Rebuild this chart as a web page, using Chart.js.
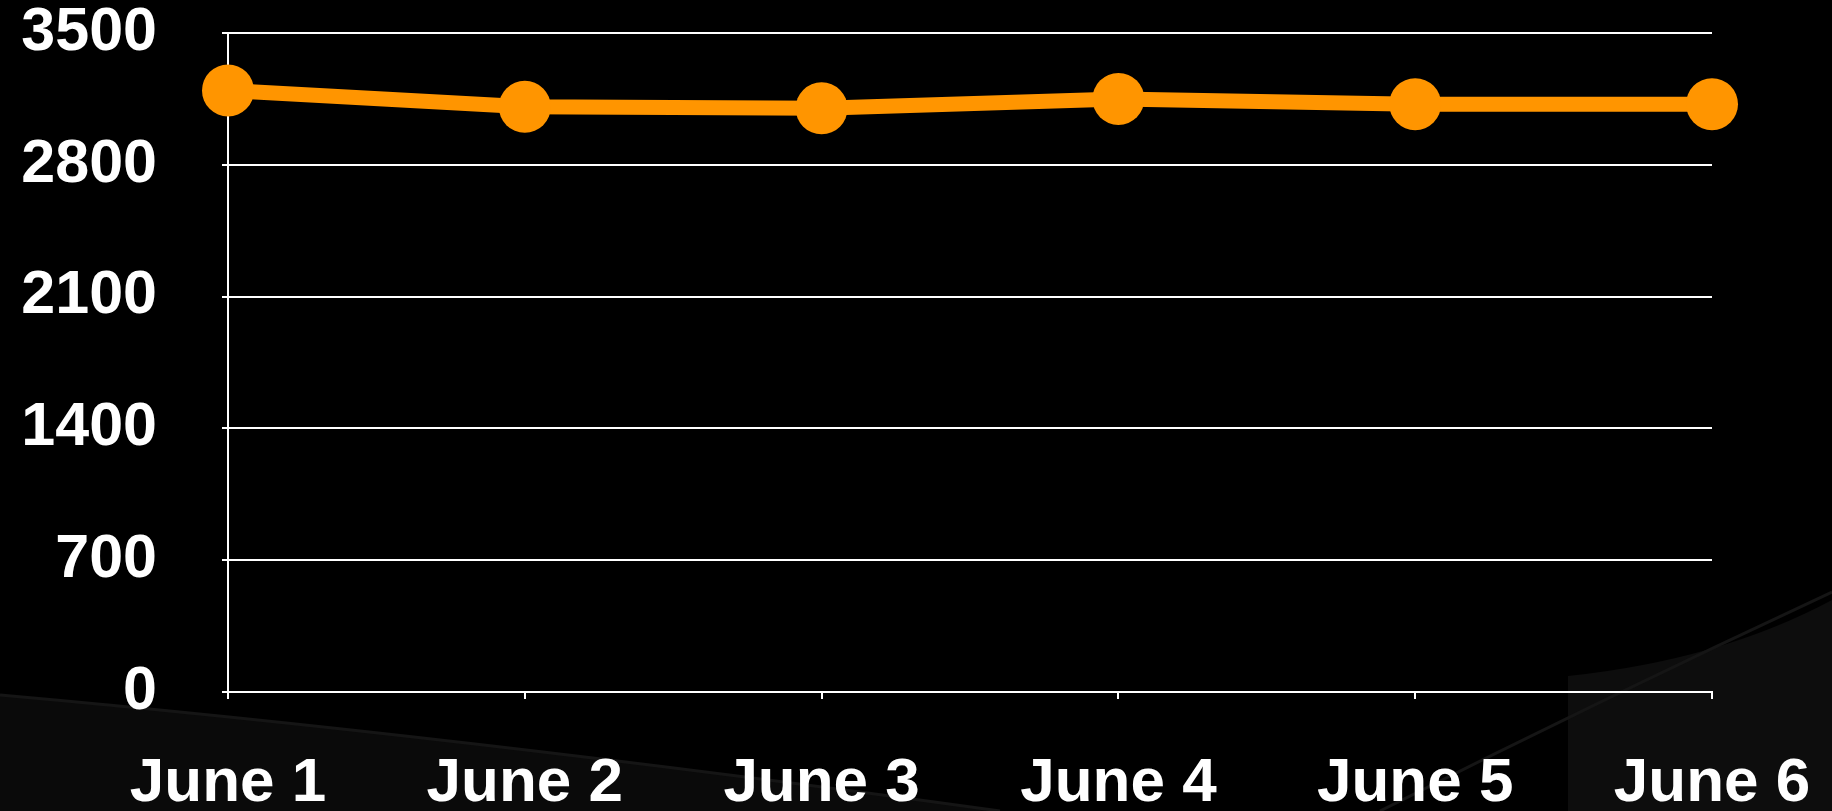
<!DOCTYPE html>
<html>
<head>
<meta charset="utf-8">
<script src="https://cdn.jsdelivr.net/npm/chart.js@4/dist/chart.umd.min.js"></script>
<style>
  html, body { margin: 0; padding: 0; background: #000; }
  #wrap { width: 1832px; height: 811px; position: relative; }
</style>
</head>
<body>
<div id="wrap"><canvas id="chart"></canvas></div>
<script>
const days = ["June 1", "June 2", "June 3", "June 4", "June 5", "June 6"];
const visits = [3195, 3108, 3100, 3150, 3122, 3122];
const yTicks = [0, 700, 1400, 2100, 2800, 3500];

const ORANGE = "#ff9500";
const FONT = "'Liberation Sans', Arial, Helvetica, sans-serif";

// dark slide backdrop with the faint swoosh along the bottom
const backdrop = {
  id: "backdrop",
  beforeDraw(chart) {
    const { ctx, width, height } = chart;
    ctx.save();
    ctx.fillStyle = "#000";
    ctx.fillRect(0, 0, width, height);

    // left band sweeping down to the bottom edge
    ctx.fillStyle = "#0a0a0a";
    ctx.beginPath();
    ctx.moveTo(0, 695);
    ctx.quadraticCurveTo(450, 735, 1000, height);
    ctx.lineTo(0, height);
    ctx.closePath();
    ctx.fill();
    ctx.strokeStyle = "#151515";
    ctx.lineWidth = 3;
    ctx.beginPath();
    ctx.moveTo(0, 695);
    ctx.quadraticCurveTo(450, 735, 1000, height);
    ctx.stroke();

    // right panel rising towards the corner
    ctx.fillStyle = "#0d0d0d";
    ctx.beginPath();
    ctx.moveTo(1568, height);
    ctx.lineTo(1568, 676);
    ctx.quadraticCurveTo(1720, 660, 1832, 600);
    ctx.lineTo(width, height);
    ctx.closePath();
    ctx.fill();
    ctx.strokeStyle = "#151515";
    ctx.lineWidth = 3;
    ctx.beginPath();
    ctx.moveTo(1380, height);
    ctx.quadraticCurveTo(1600, 700, 1832, 592);
    ctx.stroke();
    ctx.restore();
  }
};

new Chart(document.getElementById("chart"), {
  type: "line",
  data: {
    labels: days,
    datasets: [{
      data: visits,
      borderColor: ORANGE,
      backgroundColor: ORANGE,
      borderWidth: 15,
      pointRadius: 26,
      pointBorderWidth: 0,
      pointBackgroundColor: ORANGE,
      pointHoverRadius: 26,
      tension: 0,
      clip: false
    }]
  },
  options: {
    responsive: true,
    maintainAspectRatio: false,
    animation: false,
    layout: { padding: { top: 33, right: 120, left: 0, bottom: 0 } },
    plugins: {
      legend: { display: false },
      tooltip: { enabled: false }
    },
    scales: {
      x: {
        offset: false,
        border: { display: true, color: "#fff", width: 2 },
        grid: { drawOnChartArea: false, drawTicks: true, tickLength: 7, color: "#fff", lineWidth: 2 },
        ticks: {
          color: "#fff",
          padding: 48,
          maxRotation: 0,
          font: { family: FONT, size: 62, weight: "bold" }
        },
        afterFit(scale) {
          scale.height = 119;
          scale.paddingLeft = 0;
          scale.paddingRight = 0;
        }
      },
      y: {
        min: 0,
        max: 3500,
        afterBuildTicks(scale) { scale.ticks = yTicks.map(v => ({ value: v })); },
        border: { display: true, color: "#fff", width: 2 },
        grid: { color: "#fff", lineWidth: 2, drawTicks: true, tickLength: 6 },
        ticks: {
          color: "#fff",
          padding: 65,
          callback: v => String(v),
          font: { family: FONT, size: 61, weight: "bold" }
        },
        afterFit(scale) {
          scale.width = 228;
          scale.paddingTop = 0;
          scale.paddingBottom = 0;
        }
      }
    }
  },
  plugins: [backdrop]
});
</script>
</body>
</html>
